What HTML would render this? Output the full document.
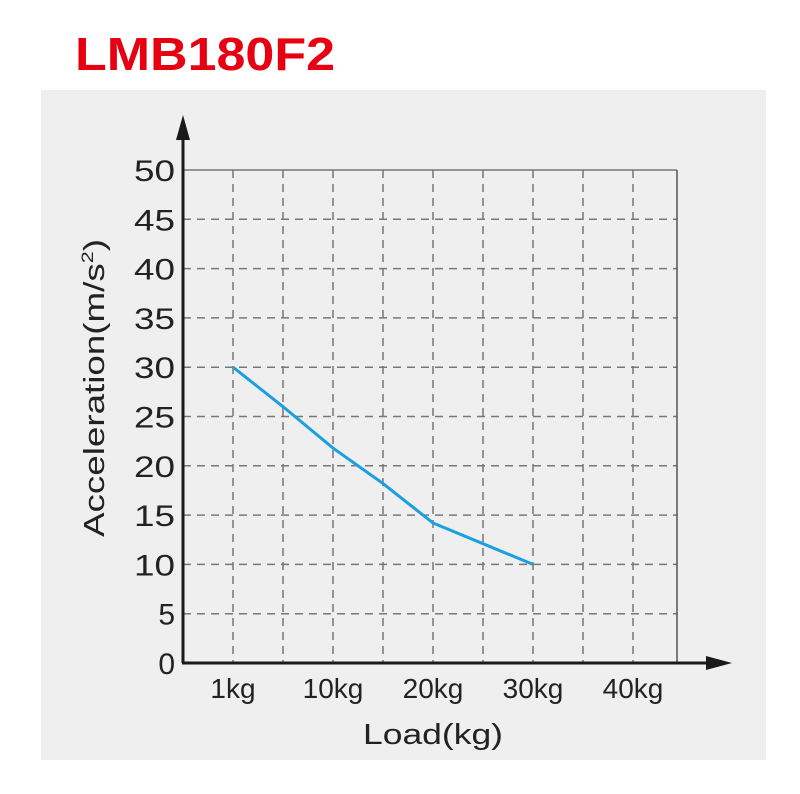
<!DOCTYPE html>
<html><head><meta charset="utf-8"><style>
body{margin:0;background:#fff;width:800px;height:789px;overflow:hidden;font-family:"Liberation Sans",sans-serif}
</style></head><body>
<svg width="800" height="789">
<text x="75" y="70" font-size="46" font-weight="bold" fill="#e60012" textLength="260" lengthAdjust="spacingAndGlyphs">LMB180F2</text>
<rect x="41" y="90" width="725" height="670" fill="#efefef"/>
<g id="grid"></g>
<g id="ticks"></g>
<polyline id="line" fill="none" stroke="#1a9fe0" stroke-width="3"/>
<line x1="183" y1="663" x2="183" y2="130" stroke="#1a1a1a" stroke-width="3"/>
<polygon points="183,115 176,140 190,140" fill="#1a1a1a"/>
<line x1="182" y1="663" x2="715" y2="663" stroke="#1a1a1a" stroke-width="3"/>
<polygon points="732,663 706,656 706,670" fill="#1a1a1a"/>
<text x="104" y="537" font-size="29" fill="#222" transform="rotate(-90 104 537)" textLength="298" lengthAdjust="spacingAndGlyphs">Acceleration(m/s<tspan font-size="17" dy="-11">2</tspan><tspan dy="11">)</tspan></text>
<text x="363" y="744" font-size="29" fill="#222" textLength="140" lengthAdjust="spacingAndGlyphs">Load(kg)</text>
</svg>
<script>
const xLabels=["1kg","10kg","20kg","30kg","40kg"];
const yTicks=[0,5,10,15,20,25,30,35,40,45,50];
const seriesX=[1,1.5,2,2.5,3,3.5,4];
const seriesY=[30,26,21.8,18.2,14.2,12.1,10];
const NS="http://www.w3.org/2000/svg";
const x0=183,pxPerUnit=50,y0=663,yScale=493/50;
const X=v=>x0+v*pxPerUnit, Y=v=>y0-v*yScale;
const grid=document.getElementById('grid'),ticks=document.getElementById('ticks');
function mk(tag,attrs,parent){const e=document.createElementNS(NS,tag);for(const k in attrs)e.setAttribute(k,attrs[k]);parent.appendChild(e);return e;}
for(let i=1;i<=9;i++){const l=mk('line',{x1:X(i),x2:X(i),y1:Y(50),y2:y0,stroke:'#777','stroke-width':1.5,'stroke-dasharray':'8,6'},grid);

}
yTicks.forEach(t=>{if(t===0)return;const l=mk('line',{x1:x0,x2:677,y1:Y(t),y2:Y(t),stroke:'#777','stroke-width':1.5,'stroke-dasharray':t===50?'none':'8,6'},grid);

});
const rb=mk('line',{x1:677,x2:677,y1:Y(50),y2:y0,stroke:'#555','stroke-width':1.5},grid);


yTicks.forEach(t=>{const e=mk('text',{x:175,y:Y(t)+11,'font-size':30,fill:'#222','text-anchor':'end'},ticks);e.textContent=t;
if(t>=10){e.setAttribute('textLength',41);e.setAttribute('lengthAdjust','spacingAndGlyphs');}

});
xLabels.forEach((s,i)=>{const e=mk('text',{x:X(1+2*i),y:698,'font-size':28,fill:'#222','text-anchor':'middle'},ticks);e.textContent=s;

});
document.getElementById('line').setAttribute('points',seriesX.map((v,i)=>X(v*2-1)+','+Y(seriesY[i])).join(' '));
</script>
</body></html>
